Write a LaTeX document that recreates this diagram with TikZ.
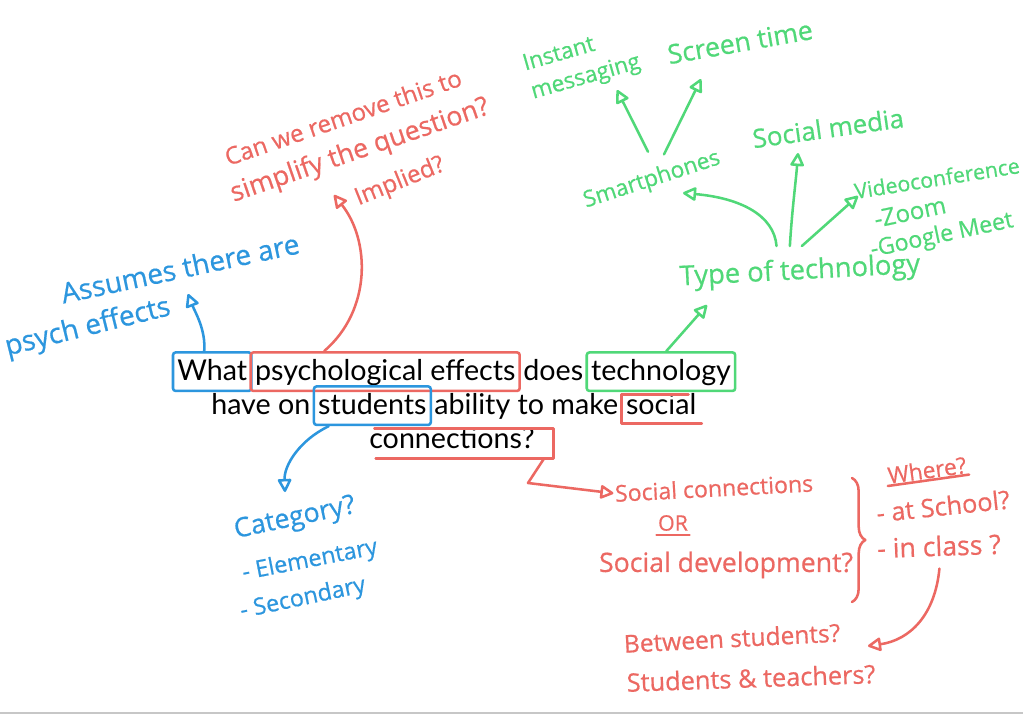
\documentclass[tikz,border=0pt]{standalone}
\usepackage{fontspec}
\setmainfont{Lato}
\newfontfamily\handfont[FakeBold=0.6]{Open Sans}
\usetikzlibrary{arrows.meta,fit,decorations.pathreplacing}
\definecolor{mblue}{RGB}{44,150,222}
\definecolor{mred}{RGB}{236,104,98}
\definecolor{mgreen}{RGB}{80,216,120}
\newcommand\qsize{\fontsize{21.5}{25}\selectfont}
\begin{document}
\begin{tikzpicture}[x=0.75pt,y=-0.75pt,
 q/.style={inner sep=0pt,anchor=base west,font=\qsize,text height=17.5pt,text depth=5pt},
 wbox/.style={draw=#1,line width=1.9pt,rounded corners=2pt,inner xsep=3pt,inner ysep=3pt},
 hand/.style={font=\handfont\fontsize{16}{19}\selectfont,inner sep=1pt,text=#1},
 hs/.style={font=\handfont\fontsize{#1}{#1}\selectfont},
 link/.style={draw=#1,line width=1.9pt,line cap=round,line join=round,-{Triangle[open,length=11pt,width=11pt,round]}},
 penline/.style={draw=#1,line width=1.9pt,line cap=round,line join=round}
]
\fill[white] (0,0) rectangle (1023,715);
\useasboundingbox (0,0) rectangle (1023,715);
\draw[black!22,line width=1.2pt] (0,713) -- (1023,713);

% central question
\node[q] (what) at (177,380) {What};
\node[q] (psy) at ([xshift=5.5pt]what.base east) {psychological effects};
\node[q] (does) at ([xshift=5.5pt]psy.base east) {does};
\node[q] (tech) at ([xshift=5.5pt]does.base east) {technology};
\node[q] (have) at (211,414) {have on};
\node[q] (stud) at ([xshift=5.5pt]have.base east) {students};
\node[q] (abil) at ([xshift=5.5pt]stud.base east) {ability to make};
\node[q] (soc) at ([xshift=5.5pt]abil.base east) {social};
\node[q] (conn) at (369,448) {connections?};

\node[wbox=mblue,fit=(what)] (whatbox) {};
\node[wbox=mred,fit=(psy)] (psybox) {};
\node[wbox=mgreen,fit=(tech)] (techbox) {};
\node[wbox=mblue,fit=(stud)] (studbox) {};
\draw[penline=mred] ([xshift=-6pt,yshift=-3pt]soc.north east) -- ([xshift=-3pt,yshift=-3pt]soc.north west)
  -- ([xshift=-3pt,yshift=-2pt]soc.south west) -- ([xshift=4pt,yshift=-2pt]soc.south east);
\draw[penline=mred] ([xshift=4pt,yshift=-3pt]conn.north west) -- ([xshift=14pt,yshift=-3pt]conn.north east)
  -- ([xshift=14pt,yshift=-2.5pt]conn.south east) coordinate (cbr) -- ([xshift=5pt,yshift=-2.5pt]conn.south west);

% blue notes
\node[hand=mblue,hs=21,rotate=12] (assume) at (180,268) {Assumes there are};
\node[hand=mblue,hs=21,rotate=14] (psych) at (88,328) {psych effects};
\node[hand=mblue,hs=20,rotate=12] (cat) at (295,519) {Category?};
\node[hand=mblue,hs=17.5,rotate=11] (elem) at (310,561) {- Elementary};
\node[hand=mblue,hs=17.5,rotate=12] (sec) at (303,599) {- Secondary};

% red notes
\node[hand=mred,hs=18,rotate=19] (canwe) at (343,117) {Can we remove this to};
\node[hand=mred,hs=20,rotate=19] (simp) at (360,151) {simplify the question?};
\node[hand=mred,hs=18,rotate=22] (impl) at (400,182) {Implied?};
\node[hand=mred,hs=17.3,rotate=3] (sconn) at (714,488) {Social connections};
\node[hand=mred,hs=16] (orn) at (673,523) {OR};
\node[hand=mred,hs=20] (sdev) at (726,565) {Social development?};
\node[hand=mred,hs=17,rotate=8] (where) at (927,470) {Where?};
\node[hand=mred,hs=19,rotate=6] (school) at (943,506) {- at School?};
\node[hand=mred,hs=20,rotate=2] (inclass) at (939,546) {- in class ?};
\node[hand=mred,hs=18.4,rotate=3] (betw) at (732,638) {Between students?};
\node[hand=mred,hs=19,rotate=2] (stt) at (751,678) {Students \& teachers?};

% green notes
\node[hand=mgreen,hs=20.5,rotate=3] (type) at (800,272) {Type of technology};
\node[hand=mgreen,hs=17,rotate=18] (smart) at (652,180) {Smartphones};
\node[hand=mgreen,hs=19.5,rotate=8] (socm) at (828,128) {Social media};
\node[hand=mgreen,hs=16,rotate=9] (video) at (937,178) {Videoconference};
\node[hand=mgreen,hs=18,rotate=12] (zoom) at (910,212) {-Zoom};
\node[hand=mgreen,hs=17.4,rotate=12] (gmeet) at (942,236) {-Google Meet};
\node[hand=mgreen,font=\handfont\fontsize{17}{22}\selectfont,rotate=16,align=left] (inst) at (582,64) {Instant\\messaging};
\node[hand=mgreen,hs=20,rotate=10] (screen) at (740,42) {Screen time};

% arrow tips
\coordinate (tipPsych) at (188,294);
\coordinate (tipCat) at (285,492);
\coordinate (tipCan) at (334,195);
\coordinate (tipType) at (707,305);
\coordinate (tipSmart) at (683,193);
\coordinate (tipSocial) at (798,153);
\coordinate (tipVideo) at (858,196);
\coordinate (tipInstant) at (617,90);
\coordinate (tipScreen) at (701,79);
\coordinate (tipBetween) at (868,646);

% blue connectors
\draw[link=mblue] ([xshift=-6pt]whatbox.north) .. controls (206,330) and (195,312) .. (tipPsych);
\draw[link=mblue] ([xshift=12pt]studbox.south west) .. controls (300,440) and (284,465) .. (tipCat);

% red connectors
\draw[link=mred] ([xshift=56pt]psybox.north west) .. controls (372,310) and (370,240) .. (tipCan);
\draw[link=mred] ([xshift=-7pt]cbr) -- (528,483) -- (sconn.west);
\draw[penline=mred] ([yshift=-2pt]orn.south west) -- ([yshift=-2pt]orn.south east);
\draw[penline=mred] (where.south west) -- (where.south east);
\draw[penline=mred,decorate,decoration={brace,amplitude=10pt}] (852,478) -- (852,602);
\draw[link=mred] ([yshift=-8pt]inclass.south) .. controls (935,615) and (910,640) .. (tipBetween);

% green connectors
\draw[link=mgreen] ([xshift=4pt]techbox.north) -- (tipType);
\draw[link=mgreen] ([xshift=-17pt,yshift=8pt]type.north) .. controls (774,215) and (740,198) .. (tipSmart);
\draw[link=mgreen] ([xshift=-7pt,yshift=8pt]type.north) .. controls (792,210) and (796,180) .. (tipSocial);
\draw[link=mgreen] ([xshift=2pt,yshift=8pt]type.north) -- (tipVideo);
\draw[link=mgreen] ([yshift=12pt]smart.north) -- (tipInstant);
\draw[link=mgreen] ([xshift=12pt,yshift=10pt]smart.north) -- (tipScreen);
\end{tikzpicture}
\end{document}
